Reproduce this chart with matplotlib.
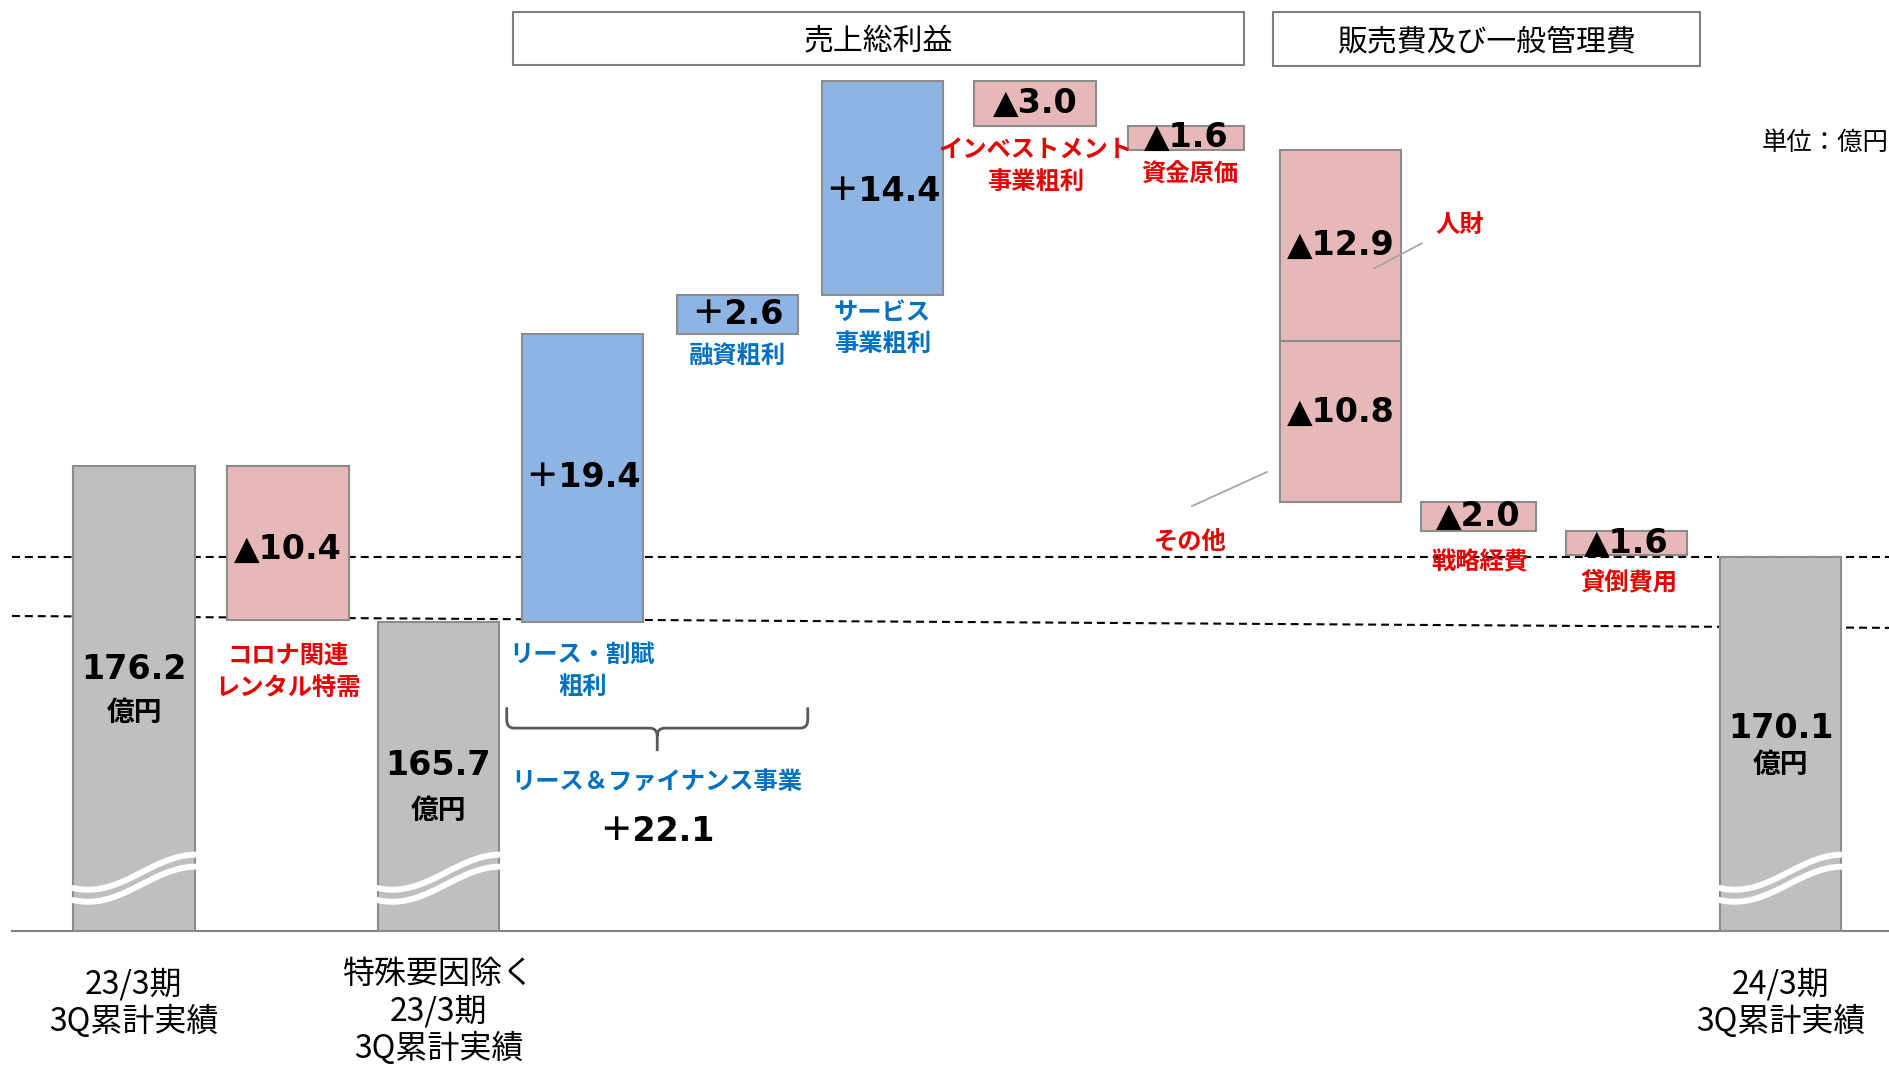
import numpy as np
import matplotlib
matplotlib.use("Agg")
import matplotlib.pyplot as plt
from matplotlib.patches import Rectangle, PathPatch
from matplotlib.path import Path

plt.rcParams["font.family"] = ["Noto Sans CJK JP", "DejaVu Sans"]
NUMFONT = ["DejaVu Sans", "Noto Sans CJK JP"]

# ---- data (億円) ----
start_label = "23/3期\n3Q累計実績"
base_label = "特殊要因除く\n23/3期\n3Q累計実績"
end_label = "24/3期\n3Q累計実績"
start_value = 176.2
base_value = 165.7
end_value = 170.1
special_label = "コロナ関連\nレンタル特需"
special_delta = -10.4
step_labels = ["リース・割賦\n粗利", "融資粗利", "サービス\n事業粗利", "インベストメント\n事業粗利",
               "資金原価", "人財", "その他", "戦略経費", "貸倒費用"]
step_deltas = [19.4, 2.6, 14.4, -3.0, -1.6, -12.9, -10.8, -2.0, -1.6]
lf_label = "リース＆ファイナンス事業"
lf_total = 22.1
group_titles = ["売上総利益", "販売費及び一般管理費"]
unit_text = "単位：億円"

# ---- layout / style ----
GRAY, PINK, BLUE, EDGE = "#BFBFBF", "#E6B9B8", "#8EB4E3", "#8C8C8C"
RED, TXTBLUE = "#E60000", "#0070C0"
FLOOR = 144.88                      # broken axis: total bars start here
total_x = [0, 2.034, 11.0]
special_x = 1.029
step_x = [2.996, 4.031, 5.0, 6.019, 7.027, 8.06, 8.06, 8.981, 9.97]
step_w = [0.81, 0.81, 0.81, 0.81, 0.775, 0.81, 0.81, 0.77, 0.81]
step_val_dy = [0, 0, -0.2, 0, 0, 0, 0.6, 0, 0]
step_lab_x = [2.996, 4.031, 5.0, 6.025, 7.05, 8.858, 7.054, 8.99, 9.985]
step_lab_y = [162.4, 183.6, 185.45, 196.4, 195.8, 192.4, 171.05, 169.7, 168.3]
total_val_y = [162.5, 156.0, 158.5]
total_unit_y = [159.55, 152.95, 156.05]
total_cat_y = [140.05, 139.45, 140.05]
W = 0.81

fig = plt.figure(figsize=(18.89, 10.67), dpi=100)
ax = fig.add_axes([0, 0, 1, 1])
ax.set_xlim(-0.895, 11.724); ax.set_ylim(135.73, 207.58); ax.axis("off")

def bar(x, lo, hi, color, w=W):
    ax.bar(x, hi - lo, bottom=lo, width=w, color=color, edgecolor=EDGE, lw=1.5, zorder=2)

def wave(x, w=W):
    xs = np.linspace(x - w / 2 - 0.01, x + w / 2 + 0.01, 80)
    t = (xs - xs[0]) / (xs[-1] - xs[0])
    y = 148.85 - 1.18 * np.cos(np.pi * (-0.15 + 1.15 * t))
    for off in (0, -0.81):
        ax.plot(xs, y + off, color="white", lw=4.3, solid_capstyle="butt", zorder=3)

# reference lines
ax.plot([-0.815, 11.724], [end_value, end_value], color="black", lw=1.5, ls=(0, (3.8, 2.4)), zorder=1)
ax.plot([-0.815, 11.724], [base_value + 0.4, base_value - 0.4], color="black", lw=1.5,
        ls=(0, (3.8, 2.4)), zorder=1)
ax.plot([-0.815, 11.724], [FLOOR, FLOOR], color="#808080", lw=1.5, zorder=1)

# totals
totals = [start_value, base_value, end_value]
for x, v, vy, uy, cy, cat in zip(total_x, totals, total_val_y, total_unit_y, total_cat_y,
                                  [start_label, base_label, end_label]):
    bar(x, FLOOR, v, GRAY)
    wave(x)
    ax.text(x, vy, f"{v:.1f}", ha="center", va="center", fontsize=24, weight="bold",
            family=NUMFONT, zorder=4)
    ax.text(x, uy, "億円", ha="center", va="center", fontsize=20, weight="bold", zorder=4)
    ax.text(x, cy, cat, ha="center", va="center", fontsize=23, linespacing=1.17, zorder=4)

def delta_text(d):
    return ("＋" if d > 0 else "▲") + f"{abs(d):.1f}"

# special factor
lo = start_value + special_delta
bar(special_x, lo, start_value, PINK)
ax.text(special_x, (lo + start_value) / 2 - 0.4, delta_text(special_delta), ha="center", va="center",
        fontsize=24, weight="bold", family=NUMFONT, zorder=4)
ax.text(special_x, 162.35, special_label, ha="center", va="center", fontsize=17.5, weight="bold",
        color=RED, linespacing=1.4, zorder=4)

# steps
run = base_value
for x, w, d, dy, lab, lx, ly in zip(step_x, step_w, step_deltas, step_val_dy, step_labels,
                                     step_lab_x, step_lab_y):
    lo, hi = sorted([run, run + d]); run += d
    bar(x, lo, hi, BLUE if d > 0 else PINK, w)
    ax.text(x, (lo + hi) / 2 + dy, delta_text(d), ha="center", va="center", fontsize=24,
            weight="bold", family=NUMFONT, zorder=4)
    ax.text(lx, ly, lab, ha="center", va="center", fontsize=17.5, weight="bold",
            color=TXTBLUE if d > 0 else RED, linespacing=1.4, zorder=4)

# leader lines for the stacked SG&A bar
x9 = step_x[5]
ax.plot([x9 + 0.223, x9 + 0.544], [189.5, 191.2], color="#A6A6A6", lw=1.3, zorder=3)
ax.plot([x9 - 0.992, x9 - 0.491], [173.5, 175.8], color="#A6A6A6", lw=1.3, zorder=3)

# brace under lease + finance
L, R = step_x[0] - 0.506, step_x[1] + 0.47
C = (L + R) / 2
top, hy, tip, rx, ry = 159.95, 158.55, 157.0, 0.05, 0.55
verts = [(L, top), (L, hy + ry), (L, hy), (L + rx, hy), (C - rx, hy), (C, hy), (C, hy - ry), (C, tip),
         (R, top), (R, hy + ry), (R, hy), (R - rx, hy), (C + rx, hy), (C, hy), (C, hy - ry)]
codes = [Path.MOVETO, Path.LINETO, Path.CURVE3, Path.CURVE3, Path.LINETO, Path.CURVE3, Path.CURVE3,
         Path.LINETO, Path.MOVETO, Path.LINETO, Path.CURVE3, Path.CURVE3, Path.LINETO, Path.CURVE3,
         Path.CURVE3]
ax.add_patch(PathPatch(Path(verts, codes), fill=False, edgecolor="#595959", lw=2, zorder=3))
ax.text(C, 154.9, lf_label, ha="center", va="center", fontsize=17.5, weight="bold", color=TXTBLUE)
ax.text(C, 151.6, "＋" + f"{lf_total:.1f}", ha="center", va="center", fontsize=24, weight="bold",
        family=NUMFONT)

# group title boxes
for (x0, x1, y0, y1), title in zip([(0.2716, 0.6585, 0.9391, 0.98875), (0.6739, 0.8999, 0.9381, 0.98875)],
                                   group_titles):
    ax.add_patch(Rectangle((x0, y0), x1 - x0, y1 - y0, transform=ax.transAxes, facecolor="white",
                           edgecolor="#808080", lw=1.5, zorder=2))
    ax.text((x0 + x1) / 2, (y0 + y1) / 2 - 0.003, title, transform=ax.transAxes, ha="center",
            va="center", fontsize=21.5, zorder=3)
ax.text(0.9325, 0.866, unit_text, transform=ax.transAxes, ha="left", va="center", fontsize=18.3)

fig.savefig("out.png", dpi=100)
